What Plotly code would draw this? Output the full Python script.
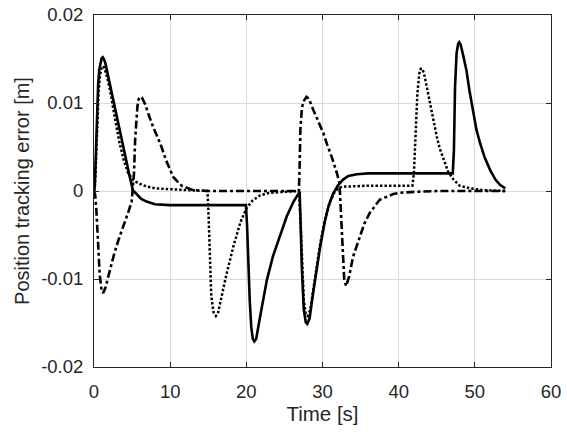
import plotly.graph_objects as go

# Solid series
t_solid = [0, 0.1, 0.2, 0.3, 0.4, 0.55, 0.7, 0.85, 1.0, 1.15, 1.3, 1.5, 1.8, 2.1, 2.5, 2.9, 3.4, 3.85, 4.3, 4.7,
           5.1, 5.6, 6.2, 6.9, 8, 10, 15, 18, 19.95,
           20.1, 20.25, 20.45, 20.65, 20.85, 21.05, 21.3, 21.7, 22.2, 22.7, 23.5, 24.4, 25.3, 26.2, 26.9, 27.0,
           27.1, 27.3, 27.55, 27.8, 28.0, 28.3, 28.7, 29.2, 29.7, 30.3, 30.8, 31.4, 32.0, 32.7, 33.4, 34.5,
           36, 40, 44, 47.1, 47.25, 47.4, 47.6, 47.8, 47.95, 48.15, 48.5, 48.9, 49.3, 49.8, 50.2, 50.7, 51.3,
           52.0, 52.7, 53.3, 53.8, 54.0]
y_solid = [0, 0.0005, 0.003, 0.0065, 0.0095, 0.0122, 0.0138, 0.0147, 0.0151, 0.0152, 0.0150, 0.0145, 0.0133,
           0.0120, 0.0103, 0.0086, 0.0066, 0.0047, 0.0031, 0.0016,
           0.0001, -0.0004, -0.0009, -0.0012, -0.0015, -0.0016, -0.0016, -0.0016, -0.0016,
           -0.004, -0.008, -0.0125, -0.0155, -0.0168, -0.0171, -0.0168, -0.0148, -0.0122, -0.0101, -0.0074,
           -0.0052, -0.0029, -0.0012, -0.0002, -0.0001,
           -0.003, -0.009, -0.0135, -0.0149, -0.0151, -0.0145, -0.0120, -0.0092, -0.0063, -0.0035, -0.0017,
           -0.0003, 0.0006, 0.0013, 0.0017, 0.0019,
           0.0020, 0.0020, 0.0020, 0.0020, 0.0045, 0.0118, 0.0156, 0.0167, 0.0169, 0.0166, 0.0153, 0.0137,
           0.0114, 0.0088, 0.0070, 0.0054, 0.0038, 0.0024, 0.0013, 0.0007, 0.0004, 0.0003]

# Dotted series
t_dot = [0, 0.1, 0.2, 0.3, 0.45, 0.6, 0.8, 1.0, 1.2, 1.4, 1.7, 2.1, 2.7, 3.3, 3.9, 4.5, 5.2, 6, 7, 8, 10, 12, 14.9,
         15.05, 15.2, 15.4, 15.7, 16.0, 16.3, 16.8, 17.3, 18.3, 19.2, 20, 20.8, 21.8, 23, 25, 26.9,
         27.1, 27.3, 27.55, 27.8, 28.05, 28.4, 28.8, 29.3, 29.8, 30.4, 31.0, 31.6, 32.2, 33, 36, 40, 41.8,
         42.0, 42.2, 42.45, 42.7, 42.9, 43.1, 43.35, 43.7, 44.1, 44.5, 45.0, 45.4, 45.9, 46.5, 47.2, 48, 49.4,
         51, 54]
y_dot = [0, 0.0004, 0.002, 0.005, 0.0085, 0.0112, 0.0132, 0.0140, 0.0142, 0.0139, 0.0130, 0.0115, 0.0085,
         0.0057, 0.0035, 0.0020, 0.0012, 0.0008, 0.0005, 0.0003, 0.0002, 0.0001, 0.0,
         -0.003, -0.008, -0.012, -0.0138, -0.0142, -0.0138, -0.0118, -0.0098, -0.0063, -0.0036, -0.0020,
         -0.0011, -0.0005, -0.0002, -0.0001, 0.0,
         -0.003, -0.008, -0.0125, -0.0140, -0.0142, -0.0135, -0.0110, -0.0082, -0.0055, -0.0030, -0.0012,
         -0.0001, 0.0004, 0.0005, 0.0006, 0.0006, 0.0006,
         0.0020, 0.0065, 0.0110, 0.0133, 0.0139, 0.0139, 0.0133, 0.0118, 0.0100, 0.0082, 0.0062, 0.0048,
         0.0035, 0.0022, 0.0013, 0.0006, 0.0003, 0.0001, 0.0]

# Dash-dot series
t_dd = [0, 0.15, 0.3, 0.5, 0.75, 1.0, 1.2, 1.5, 2.0, 2.6, 3.2, 3.85, 4.5, 4.95, 5.1, 5.25, 5.4, 5.55, 5.7,
        5.85, 6.05, 6.3, 6.7, 7.2, 7.8, 8.7, 9.5, 10.4, 11.5, 13, 15, 20, 26.9,
        27.0, 27.1, 27.3, 27.6, 27.9, 28.2, 28.8, 29.4, 30.1, 30.6, 31.2, 31.9, 32.2, 32.3,
        32.5, 32.7, 32.85, 33.1, 33.5, 34.0, 34.9, 35.5, 36.2, 37.5, 39.3, 40.2, 42, 45, 50, 54]
y_dd = [0, -0.0004, -0.002, -0.0055, -0.0095, -0.0113, -0.0116, -0.0110, -0.0093, -0.0073, -0.0056, -0.0041,
        -0.0024, -0.0012, 0.0, 0.002, 0.0058, 0.0080, 0.0096, 0.0104, 0.0107, 0.0106, 0.0099, 0.0086,
        0.0072, 0.0054, 0.0034, 0.0016, 0.0006, 0.0001, 0.0, 0.0, 0.0,
        0.003, 0.007, 0.0095, 0.0103, 0.0107, 0.0105, 0.0092, 0.0080, 0.0066, 0.0053, 0.0039, 0.0020,
        0.0010, -0.0003,
        -0.0044, -0.0082, -0.0100, -0.0108, -0.0097, -0.0075, -0.0052, -0.0037, -0.0025, -0.0010,
        -0.00034, -0.0002, -0.0001, 0.0, 0.0, 0.0]

x_ticks = [0, 10, 20, 30, 40, 50, 60]
y_ticks = [-0.02, -0.01, 0, 0.01, 0.02]
y_tick_labels = ["-0.02", "-0.01", "0", "0.01", "0.02"]

FONT = "Liberation Sans, Arial, sans-serif"
TXT = "#262626"

fig = go.Figure()
fig.add_trace(go.Scatter(x=t_solid, y=y_solid, mode="lines",
                         line=dict(color="black", width=2.6), showlegend=False))
fig.add_trace(go.Scatter(x=t_dot, y=y_dot, mode="lines",
                         line=dict(color="black", width=2.5, dash="2.5px,2px"), showlegend=False))
fig.add_trace(go.Scatter(x=t_dd, y=y_dd, mode="lines",
                         line=dict(color="black", width=2.6, dash="8px,3px,3px,3px"), showlegend=False))

axis_common = dict(
    showline=True, linecolor=TXT, linewidth=1, mirror="ticks",
    ticks="inside", ticklen=5, tickcolor=TXT, automargin=False,
    showgrid=True, gridcolor="#dadada", gridwidth=1, zeroline=False,
    tickfont=dict(family=FONT, size=18.5, color=TXT),
)

fig.update_xaxes(range=[0, 60], tickvals=x_ticks, ticklabelstandoff=8, **axis_common,
                 title=dict(text="Time [s]", standoff=3,
                            font=dict(family=FONT, size=20.5, color=TXT)))
fig.update_yaxes(range=[-0.02, 0.02], tickvals=y_ticks, ticktext=y_tick_labels, ticklabelstandoff=6,
                 **axis_common,
                 title=dict(text="Position tracking error [m]", standoff=6,
                            font=dict(family=FONT, size=20, color=TXT)))

fig.update_layout(
    width=567, height=432,
    margin=dict(l=94, r=16, t=15, b=65),
    paper_bgcolor="white", plot_bgcolor="white",
)

fig.write_html("out.html", config={"displayModeBar": False},
               post_script="document.body.style.margin='0';")
